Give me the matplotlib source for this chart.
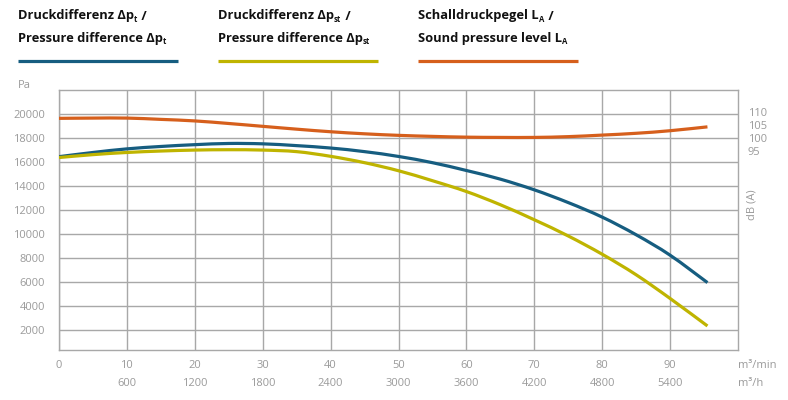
import matplotlib
matplotlib.use("Agg")
import matplotlib.pyplot as plt
from matplotlib.lines import Line2D
from matplotlib.path import Path
from matplotlib.patches import PathPatch

plt.rcParams["font.family"] = ["Open Sans", "DejaVu Sans"]

# volume flow (m³/min)
flow = [0, 5, 10, 15, 20, 25, 30, 35, 40, 45, 50, 55, 60, 65, 70, 75, 80, 85, 90, 95.5]
# total pressure difference (Pa)
dp_total = [16450, 16800, 17100, 17300, 17450, 17550, 17520, 17370, 17170, 16870,
            16470, 15950, 15300, 14580, 13690, 12630, 11420, 9950, 8250, 5970]
# static pressure difference (Pa)
dp_static = [16380, 16620, 16800, 16920, 17000, 17030, 17000, 16870, 16480, 15950,
             15280, 14450, 13550, 12450, 11200, 9850, 8330, 6620, 4650, 2360]
# sound pressure level (dB(A))
sound_db = [107.7, 107.8, 107.8, 107.3, 106.7, 105.7, 104.6, 103.5, 102.5, 101.7,
            101.1, 100.7, 100.4, 100.3, 100.3, 100.6, 101.2, 101.9, 102.9, 104.4]

x_ticks_min = [0, 10, 20, 30, 40, 50, 60, 70, 80, 90]
x_ticks_h = ["", "600", "1200", "1800", "2400", "3000", "3600", "4200", "4800", "5400"]
y_ticks = [2000, 4000, 6000, 8000, 10000, 12000, 14000, 16000, 18000, 20000]
db_ticks = [95, 100, 105, 110]

# legend headers: (text, subscript) pieces per line
legend_labels = [
    ([("Druckdifferenz Δp", False), ("t", True), (" /", False)],
     [("Pressure difference Δp", False), ("t", True)]),
    ([("Druckdifferenz Δp", False), ("st", True), (" /", False)],
     [("Pressure difference Δp", False), ("st", True)]),
    ([("Schalldruckpegel L", False), ("A", True), (" /", False)],
     [("Sound pressure level L", False), ("A", True)]),
]

BLUE = "#165d80"
YELLOW = "#bfb400"
ORANGE = "#d65f1c"
GRID = "#a8a8a8"
TEXT = "#9a9a9a"

W, H = 788, 400


def smooth_curve(ax, xs, ys, color):
    """Draw a smooth curve through the points (Catmull-Rom as cubic Bezier)."""
    pts = list(zip(xs, ys))
    verts = [pts[0]]
    codes = [Path.MOVETO]
    n = len(pts)
    for i in range(n - 1):
        p0 = pts[i - 1] if i > 0 else pts[i]
        p1 = pts[i]
        p2 = pts[i + 1]
        p3 = pts[i + 2] if i + 2 < n else pts[i + 1]
        c1 = (p1[0] + (p2[0] - p0[0]) / 6, p1[1] + (p2[1] - p0[1]) / 6)
        c2 = (p2[0] - (p3[0] - p1[0]) / 6, p2[1] - (p3[1] - p1[1]) / 6)
        verts += [c1, c2, p2]
        codes += [Path.CURVE4] * 3
    patch = PathPatch(Path(verts, codes), facecolor="none", edgecolor=color,
                      lw=2.3, capstyle="butt", zorder=3)
    ax.add_patch(patch)


def rich_line(fig, renderer, x_px, y_px, parts, size):
    """Write bold text with small subscripts, piece by piece."""
    x = x_px
    for txt, sub in parts:
        t = fig.text(x / W, 1 - (y_px + (2.5 if sub else 0)) / H, txt,
                     fontsize=size * 0.6 if sub else size, fontweight="bold",
                     color="#111111", ha="left", va="baseline")
        x = t.get_window_extent(renderer).x1 + (1 if sub else 0)


fig = plt.figure(figsize=(W / 100, H / 100), dpi=100)
renderer = fig.canvas.get_renderer()
ax = fig.add_axes([59 / W, 1 - 350 / H, 679 / W, 260 / H])

smooth_curve(ax, flow, dp_total, BLUE)
smooth_curve(ax, flow, dp_static, YELLOW)

ax.set_xlim(0, 100)
ax.set_ylim(360, 22000)
ax.set_xticks(x_ticks_min)
ax.set_xticklabels([])
ax.set_yticks(y_ticks)
ax.set_yticklabels([str(v) for v in y_ticks])
ax.tick_params(axis="both", length=0, colors=TEXT, labelsize=8)
ax.tick_params(axis="y", pad=10)
ax.grid(True, color=GRID, lw=1)
for s in ax.spines.values():
    s.set_color(GRID)
    s.set_linewidth(1)
ax.set_axisbelow(True)

# two rows of x labels
for v, h in zip(x_ticks_min, x_ticks_h):
    ax.text(v, -15 / 260, str(v), transform=ax.get_xaxis_transform(),
            ha="center", va="center", fontsize=8, color=TEXT)
    ax.text(v, -33 / 260, h, transform=ax.get_xaxis_transform(),
            ha="center", va="center", fontsize=8, color=TEXT)
ax.text(100, -15 / 260, "m³/min", transform=ax.get_xaxis_transform(),
        ha="left", va="center", fontsize=8, color=TEXT)
ax.text(100, -33 / 260, "m³/h", transform=ax.get_xaxis_transform(),
        ha="left", va="center", fontsize=8, color=TEXT)

# sound level on its own scale
ax2 = ax.twinx()
smooth_curve(ax2, flow, sound_db, ORANGE)
ax2.set_ylim(17.8, 118.7)
ax2.set_yticks(db_ticks)
ax2.set_yticklabels([str(v) for v in db_ticks])
ax2.tick_params(axis="y", length=0, colors=TEXT, labelsize=8, pad=7)
for s in ax2.spines.values():
    s.set_visible(False)

fig.text(18 / W, 1 - 86 / H, "Pa", fontsize=8, color=TEXT, va="center", ha="left")
fig.text(752 / W, 1 - 205 / H, "dB (A)", fontsize=8, color=TEXT, rotation=90,
         va="center", ha="center")

colors = [BLUE, YELLOW, ORANGE]
for i, ((l1, l2), c) in enumerate(zip(legend_labels, colors)):
    x0 = 18 + 200 * i
    rich_line(fig, renderer, x0, 19.5, l1, 9.3)
    rich_line(fig, renderer, x0, 42, l2, 9.3)
    fig.add_artist(Line2D([x0 / W, (x0 + 160) / W], [1 - 61 / H, 1 - 61 / H],
                          color=c, lw=2.3, solid_capstyle="butt"))

fig.savefig("out.png", dpi=100)
